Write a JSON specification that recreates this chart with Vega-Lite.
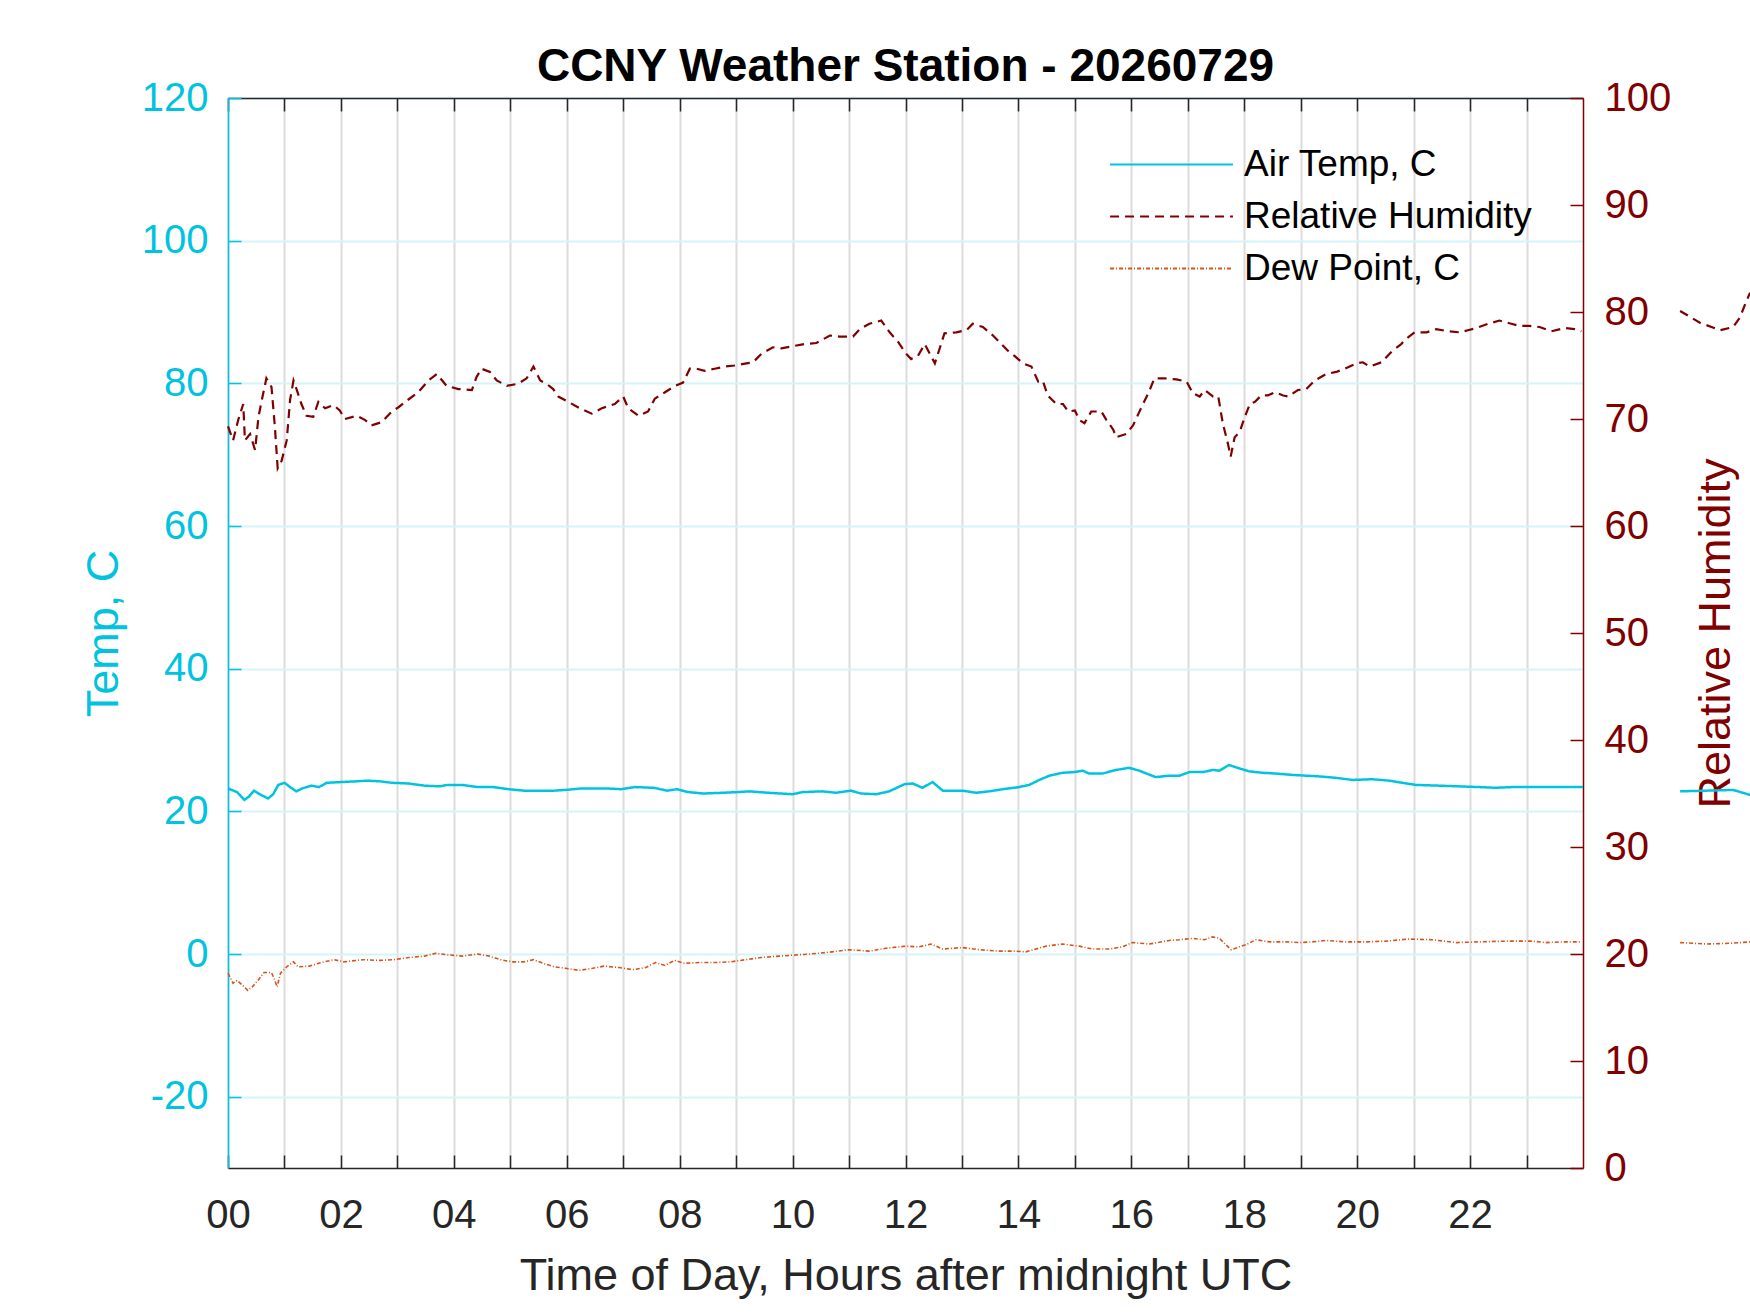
{
  "$schema": "https://vega.github.io/schema/vega-lite/v6.json",
  "width": 1355,
  "height": 1070,
  "autosize": {"type": "none"},
  "padding": {"left": 228, "top": 98, "right": 167, "bottom": 145},
  "title": {
    "text": "CCNY Weather Station - 20260729",
    "fontSize": 46,
    "fontWeight": "bold",
    "color": "#000000",
    "anchor": "middle",
    "baseline": "alphabetic",
    "frame": "group",
    "offset": 13,
    "dy": 62
  },
  "config": {
    "font": "Liberation Sans",
    "view": {"stroke": null},
    "axis": {
      "labelFont": "Liberation Sans",
      "titleFont": "Liberation Sans",
      "titleFontWeight": "normal",
      "labelFontSize": 40,
      "titleFontSize": 45,
      "tickSize": -13,
      "tickWidth": 1.5,
      "domainWidth": 1.5,
      "labelFlush": false,
      "labelOverlap": false,
      "gridWidth": 2
    }
  },
  "datasets": {
    "temp": [
      {"hour": 0, "value": 23.2, "seg": 1}, {"hour": 0.16, "value": 22.7, "seg": 1}, {"hour": 0.29, "value": 21.6, "seg": 1},
      {"hour": 0.36, "value": 22.0, "seg": 1}, {"hour": 0.46, "value": 22.9, "seg": 1}, {"hour": 0.56, "value": 22.4, "seg": 1},
      {"hour": 0.71, "value": 21.8, "seg": 1}, {"hour": 0.8, "value": 22.4, "seg": 1}, {"hour": 0.89, "value": 23.7, "seg": 1},
      {"hour": 1.0, "value": 24.0, "seg": 1}, {"hour": 1.1, "value": 23.4, "seg": 1}, {"hour": 1.21, "value": 22.8, "seg": 1},
      {"hour": 1.31, "value": 23.2, "seg": 1}, {"hour": 1.48, "value": 23.6, "seg": 1}, {"hour": 1.61, "value": 23.4, "seg": 1},
      {"hour": 1.75, "value": 24.0, "seg": 1}, {"hour": 1.99, "value": 24.1, "seg": 1}, {"hour": 2.26, "value": 24.2, "seg": 1},
      {"hour": 2.46, "value": 24.3, "seg": 1}, {"hour": 2.7, "value": 24.2, "seg": 1}, {"hour": 2.9, "value": 24.0, "seg": 1},
      {"hour": 3.2, "value": 23.9, "seg": 1}, {"hour": 3.48, "value": 23.6, "seg": 1}, {"hour": 3.75, "value": 23.5, "seg": 1},
      {"hour": 3.88, "value": 23.7, "seg": 1}, {"hour": 4.15, "value": 23.7, "seg": 1}, {"hour": 4.42, "value": 23.4, "seg": 1},
      {"hour": 4.7, "value": 23.4, "seg": 1}, {"hour": 4.97, "value": 23.1, "seg": 1}, {"hour": 5.24, "value": 22.9, "seg": 1},
      {"hour": 5.51, "value": 22.9, "seg": 1}, {"hour": 5.78, "value": 22.9, "seg": 1}, {"hour": 5.98, "value": 23.0, "seg": 1},
      {"hour": 6.25, "value": 23.2, "seg": 1}, {"hour": 6.52, "value": 23.2, "seg": 1}, {"hour": 6.73, "value": 23.2, "seg": 1},
      {"hour": 6.96, "value": 23.1, "seg": 1}, {"hour": 7.2, "value": 23.4, "seg": 1}, {"hour": 7.54, "value": 23.3, "seg": 1},
      {"hour": 7.78, "value": 22.9, "seg": 1}, {"hour": 7.95, "value": 23.1, "seg": 1}, {"hour": 8.15, "value": 22.7, "seg": 1},
      {"hour": 8.42, "value": 22.5, "seg": 1}, {"hour": 8.76, "value": 22.6, "seg": 1}, {"hour": 9.03, "value": 22.7, "seg": 1},
      {"hour": 9.23, "value": 22.8, "seg": 1}, {"hour": 9.57, "value": 22.6, "seg": 1}, {"hour": 10.0, "value": 22.4, "seg": 1},
      {"hour": 10.18, "value": 22.7, "seg": 1}, {"hour": 10.53, "value": 22.8, "seg": 1}, {"hour": 10.77, "value": 22.6, "seg": 1},
      {"hour": 11.03, "value": 22.9, "seg": 1}, {"hour": 11.21, "value": 22.5, "seg": 1}, {"hour": 11.48, "value": 22.4, "seg": 1},
      {"hour": 11.71, "value": 22.8, "seg": 1}, {"hour": 11.98, "value": 23.8, "seg": 1}, {"hour": 12.13, "value": 23.9, "seg": 1},
      {"hour": 12.3, "value": 23.3, "seg": 1}, {"hour": 12.48, "value": 24.1, "seg": 1}, {"hour": 12.66, "value": 22.9, "seg": 1},
      {"hour": 13.01, "value": 22.9, "seg": 1}, {"hour": 13.25, "value": 22.6, "seg": 1}, {"hour": 13.48, "value": 22.8, "seg": 1},
      {"hour": 13.72, "value": 23.1, "seg": 1}, {"hour": 14.01, "value": 23.4, "seg": 1}, {"hour": 14.19, "value": 23.7, "seg": 1},
      {"hour": 14.37, "value": 24.4, "seg": 1}, {"hour": 14.55, "value": 25.0, "seg": 1}, {"hour": 14.78, "value": 25.4, "seg": 1},
      {"hour": 14.99, "value": 25.5, "seg": 1}, {"hour": 15.14, "value": 25.7, "seg": 1}, {"hour": 15.25, "value": 25.3, "seg": 1},
      {"hour": 15.49, "value": 25.3, "seg": 1}, {"hour": 15.73, "value": 25.8, "seg": 1}, {"hour": 15.96, "value": 26.1, "seg": 1},
      {"hour": 16.14, "value": 25.7, "seg": 1}, {"hour": 16.43, "value": 24.8, "seg": 1}, {"hour": 16.67, "value": 25.0, "seg": 1},
      {"hour": 16.85, "value": 25.0, "seg": 1}, {"hour": 17.03, "value": 25.5, "seg": 1}, {"hour": 17.27, "value": 25.5, "seg": 1},
      {"hour": 17.44, "value": 25.8, "seg": 1}, {"hour": 17.56, "value": 25.7, "seg": 1}, {"hour": 17.73, "value": 26.5, "seg": 1},
      {"hour": 17.88, "value": 26.1, "seg": 1}, {"hour": 18.09, "value": 25.6, "seg": 1}, {"hour": 18.33, "value": 25.4, "seg": 1},
      {"hour": 18.56, "value": 25.3, "seg": 1}, {"hour": 18.86, "value": 25.1, "seg": 1}, {"hour": 19.09, "value": 25.0, "seg": 1},
      {"hour": 19.33, "value": 24.9, "seg": 1}, {"hour": 19.62, "value": 24.7, "seg": 1}, {"hour": 19.92, "value": 24.4, "seg": 1},
      {"hour": 20.27, "value": 24.5, "seg": 1}, {"hour": 20.57, "value": 24.3, "seg": 1}, {"hour": 20.8, "value": 24.0, "seg": 1},
      {"hour": 21.04, "value": 23.7, "seg": 1}, {"hour": 21.45, "value": 23.6, "seg": 1}, {"hour": 21.81, "value": 23.5, "seg": 1},
      {"hour": 22.16, "value": 23.4, "seg": 1}, {"hour": 22.45, "value": 23.3, "seg": 1}, {"hour": 22.75, "value": 23.4, "seg": 1},
      {"hour": 23.1, "value": 23.4, "seg": 1}, {"hour": 23.52, "value": 23.4, "seg": 1}, {"hour": 24.0, "value": 23.4, "seg": 1},
      {"hour": 25.72, "value": 22.8, "seg": 2}, {"hour": 26.2, "value": 22.9, "seg": 2}, {"hour": 26.66, "value": 23.0, "seg": 2},
      {"hour": 26.96, "value": 22.3, "seg": 2}
    ],
    "dew": [
      {"hour": 0, "value": -2.7, "seg": 1}, {"hour": 0.09, "value": -4.1, "seg": 1}, {"hour": 0.16, "value": -3.7, "seg": 1},
      {"hour": 0.26, "value": -4.4, "seg": 1}, {"hour": 0.35, "value": -5.1, "seg": 1}, {"hour": 0.43, "value": -4.6, "seg": 1},
      {"hour": 0.53, "value": -3.7, "seg": 1}, {"hour": 0.64, "value": -2.6, "seg": 1}, {"hour": 0.77, "value": -2.6, "seg": 1},
      {"hour": 0.83, "value": -3.7, "seg": 1}, {"hour": 0.87, "value": -4.6, "seg": 1}, {"hour": 0.93, "value": -2.7, "seg": 1},
      {"hour": 1.04, "value": -1.8, "seg": 1}, {"hour": 1.16, "value": -1.1, "seg": 1}, {"hour": 1.24, "value": -1.8, "seg": 1},
      {"hour": 1.44, "value": -1.7, "seg": 1}, {"hour": 1.65, "value": -1.2, "seg": 1}, {"hour": 1.88, "value": -0.8, "seg": 1},
      {"hour": 2.05, "value": -1.1, "seg": 1}, {"hour": 2.39, "value": -0.8, "seg": 1}, {"hour": 2.66, "value": -0.9, "seg": 1},
      {"hour": 2.93, "value": -0.8, "seg": 1}, {"hour": 3.2, "value": -0.5, "seg": 1}, {"hour": 3.48, "value": -0.3, "seg": 1},
      {"hour": 3.68, "value": 0.1, "seg": 1}, {"hour": 3.88, "value": -0.1, "seg": 1}, {"hour": 4.15, "value": -0.3, "seg": 1},
      {"hour": 4.42, "value": 0.0, "seg": 1}, {"hour": 4.63, "value": -0.3, "seg": 1}, {"hour": 4.83, "value": -0.8, "seg": 1},
      {"hour": 5.03, "value": -1.1, "seg": 1}, {"hour": 5.24, "value": -1.1, "seg": 1}, {"hour": 5.41, "value": -0.8, "seg": 1},
      {"hour": 5.58, "value": -1.3, "seg": 1}, {"hour": 5.78, "value": -1.8, "seg": 1}, {"hour": 5.98, "value": -2.0, "seg": 1},
      {"hour": 6.22, "value": -2.3, "seg": 1}, {"hour": 6.46, "value": -2.0, "seg": 1}, {"hour": 6.66, "value": -1.7, "seg": 1},
      {"hour": 6.93, "value": -1.9, "seg": 1}, {"hour": 7.17, "value": -2.2, "seg": 1}, {"hour": 7.4, "value": -1.9, "seg": 1},
      {"hour": 7.57, "value": -1.2, "seg": 1}, {"hour": 7.74, "value": -1.6, "seg": 1}, {"hour": 7.91, "value": -0.9, "seg": 1},
      {"hour": 8.08, "value": -1.3, "seg": 1}, {"hour": 8.35, "value": -1.2, "seg": 1}, {"hour": 8.62, "value": -1.2, "seg": 1},
      {"hour": 8.9, "value": -1.1, "seg": 1}, {"hour": 9.17, "value": -0.8, "seg": 1}, {"hour": 9.44, "value": -0.5, "seg": 1},
      {"hour": 9.76, "value": -0.3, "seg": 1}, {"hour": 10.3, "value": 0.0, "seg": 1}, {"hour": 10.59, "value": 0.2, "seg": 1},
      {"hour": 11.0, "value": 0.6, "seg": 1}, {"hour": 11.36, "value": 0.4, "seg": 1}, {"hour": 11.65, "value": 0.8, "seg": 1},
      {"hour": 12.0, "value": 1.1, "seg": 1}, {"hour": 12.24, "value": 1.0, "seg": 1}, {"hour": 12.45, "value": 1.4, "seg": 1},
      {"hour": 12.66, "value": 0.7, "seg": 1}, {"hour": 13.01, "value": 0.9, "seg": 1}, {"hour": 13.31, "value": 0.6, "seg": 1},
      {"hour": 13.66, "value": 0.4, "seg": 1}, {"hour": 13.96, "value": 0.4, "seg": 1}, {"hour": 14.13, "value": 0.3, "seg": 1},
      {"hour": 14.49, "value": 1.1, "seg": 1}, {"hour": 14.78, "value": 1.4, "seg": 1}, {"hour": 15.08, "value": 1.1, "seg": 1},
      {"hour": 15.31, "value": 0.7, "seg": 1}, {"hour": 15.61, "value": 0.7, "seg": 1}, {"hour": 15.84, "value": 1.0, "seg": 1},
      {"hour": 16.02, "value": 1.6, "seg": 1}, {"hour": 16.32, "value": 1.4, "seg": 1}, {"hour": 16.67, "value": 1.9, "seg": 1},
      {"hour": 16.85, "value": 2.0, "seg": 1}, {"hour": 17.09, "value": 2.2, "seg": 1}, {"hour": 17.29, "value": 2.0, "seg": 1},
      {"hour": 17.44, "value": 2.4, "seg": 1}, {"hour": 17.56, "value": 2.2, "seg": 1}, {"hour": 17.65, "value": 1.5, "seg": 1},
      {"hour": 17.77, "value": 0.6, "seg": 1}, {"hour": 17.88, "value": 0.9, "seg": 1}, {"hour": 18.03, "value": 1.3, "seg": 1},
      {"hour": 18.21, "value": 2.0, "seg": 1}, {"hour": 18.44, "value": 1.7, "seg": 1}, {"hour": 18.74, "value": 1.7, "seg": 1},
      {"hour": 18.98, "value": 1.6, "seg": 1}, {"hour": 19.21, "value": 1.7, "seg": 1}, {"hour": 19.45, "value": 1.9, "seg": 1},
      {"hour": 19.8, "value": 1.7, "seg": 1}, {"hour": 20.15, "value": 1.7, "seg": 1}, {"hour": 20.51, "value": 1.8, "seg": 1},
      {"hour": 20.92, "value": 2.1, "seg": 1}, {"hour": 21.33, "value": 2.0, "seg": 1}, {"hour": 21.75, "value": 1.6, "seg": 1},
      {"hour": 22.16, "value": 1.7, "seg": 1}, {"hour": 22.63, "value": 1.8, "seg": 1}, {"hour": 23.1, "value": 1.8, "seg": 1},
      {"hour": 23.34, "value": 1.6, "seg": 1}, {"hour": 23.63, "value": 1.7, "seg": 1}, {"hour": 23.96, "value": 1.7, "seg": 1},
      {"hour": 25.72, "value": 1.6, "seg": 2}, {"hour": 26.2, "value": 1.4, "seg": 2}, {"hour": 26.6, "value": 1.5, "seg": 2},
      {"hour": 26.96, "value": 1.7, "seg": 2}
    ],
    "rh": [
      {"hour": 0, "value": 69.3, "seg": 1}, {"hour": 0.09, "value": 68.0, "seg": 1}, {"hour": 0.18, "value": 69.9, "seg": 1},
      {"hour": 0.27, "value": 71.4, "seg": 1}, {"hour": 0.3, "value": 68.0, "seg": 1}, {"hour": 0.39, "value": 68.6, "seg": 1},
      {"hour": 0.48, "value": 67.1, "seg": 1}, {"hour": 0.54, "value": 70.2, "seg": 1}, {"hour": 0.6, "value": 71.8, "seg": 1},
      {"hour": 0.68, "value": 73.8, "seg": 1}, {"hour": 0.77, "value": 73.0, "seg": 1}, {"hour": 0.83, "value": 69.3, "seg": 1},
      {"hour": 0.88, "value": 65.4, "seg": 1}, {"hour": 0.95, "value": 66.1, "seg": 1}, {"hour": 1.04, "value": 68.0, "seg": 1},
      {"hour": 1.1, "value": 71.8, "seg": 1}, {"hour": 1.16, "value": 73.6, "seg": 1}, {"hour": 1.22, "value": 72.7, "seg": 1},
      {"hour": 1.3, "value": 71.4, "seg": 1}, {"hour": 1.39, "value": 70.3, "seg": 1}, {"hour": 1.51, "value": 70.2, "seg": 1},
      {"hour": 1.6, "value": 71.6, "seg": 1}, {"hour": 1.72, "value": 71.0, "seg": 1}, {"hour": 1.87, "value": 71.3, "seg": 1},
      {"hour": 1.98, "value": 70.8, "seg": 1}, {"hour": 2.07, "value": 70.0, "seg": 1}, {"hour": 2.28, "value": 70.3, "seg": 1},
      {"hour": 2.43, "value": 69.9, "seg": 1}, {"hour": 2.54, "value": 69.4, "seg": 1}, {"hour": 2.72, "value": 69.7, "seg": 1},
      {"hour": 2.9, "value": 70.7, "seg": 1}, {"hour": 3.02, "value": 71.1, "seg": 1}, {"hour": 3.19, "value": 71.8, "seg": 1},
      {"hour": 3.37, "value": 72.5, "seg": 1}, {"hour": 3.55, "value": 73.6, "seg": 1}, {"hour": 3.7, "value": 74.2, "seg": 1},
      {"hour": 3.87, "value": 73.1, "seg": 1}, {"hour": 4.08, "value": 72.8, "seg": 1}, {"hour": 4.32, "value": 72.7, "seg": 1},
      {"hour": 4.4, "value": 73.9, "seg": 1}, {"hour": 4.49, "value": 74.7, "seg": 1}, {"hour": 4.64, "value": 74.4, "seg": 1},
      {"hour": 4.76, "value": 73.6, "seg": 1}, {"hour": 4.94, "value": 73.1, "seg": 1}, {"hour": 5.14, "value": 73.3, "seg": 1},
      {"hour": 5.29, "value": 73.8, "seg": 1}, {"hour": 5.41, "value": 74.9, "seg": 1}, {"hour": 5.53, "value": 73.6, "seg": 1},
      {"hour": 5.64, "value": 73.3, "seg": 1}, {"hour": 5.76, "value": 72.8, "seg": 1}, {"hour": 5.85, "value": 72.1, "seg": 1},
      {"hour": 6.03, "value": 71.6, "seg": 1}, {"hour": 6.23, "value": 71.0, "seg": 1}, {"hour": 6.44, "value": 70.5, "seg": 1},
      {"hour": 6.62, "value": 71.0, "seg": 1}, {"hour": 6.85, "value": 71.4, "seg": 1}, {"hour": 7.0, "value": 72.1, "seg": 1},
      {"hour": 7.09, "value": 71.0, "seg": 1}, {"hour": 7.27, "value": 70.3, "seg": 1}, {"hour": 7.44, "value": 70.7, "seg": 1},
      {"hour": 7.56, "value": 71.9, "seg": 1}, {"hour": 7.74, "value": 72.5, "seg": 1}, {"hour": 7.92, "value": 73.1, "seg": 1},
      {"hour": 8.06, "value": 73.4, "seg": 1}, {"hour": 8.18, "value": 74.7, "seg": 1}, {"hour": 8.3, "value": 74.7, "seg": 1},
      {"hour": 8.44, "value": 74.5, "seg": 1}, {"hour": 8.62, "value": 74.7, "seg": 1}, {"hour": 8.8, "value": 74.9, "seg": 1},
      {"hour": 8.97, "value": 75.0, "seg": 1}, {"hour": 9.18, "value": 75.2, "seg": 1}, {"hour": 9.3, "value": 75.3, "seg": 1},
      {"hour": 9.45, "value": 76.1, "seg": 1}, {"hour": 9.65, "value": 76.7, "seg": 1}, {"hour": 9.8, "value": 76.6, "seg": 1},
      {"hour": 10.0, "value": 76.8, "seg": 1}, {"hour": 10.21, "value": 77.0, "seg": 1}, {"hour": 10.42, "value": 77.1, "seg": 1},
      {"hour": 10.66, "value": 77.8, "seg": 1}, {"hour": 10.83, "value": 77.7, "seg": 1}, {"hour": 11.07, "value": 77.7, "seg": 1},
      {"hour": 11.19, "value": 78.4, "seg": 1}, {"hour": 11.36, "value": 78.9, "seg": 1}, {"hour": 11.57, "value": 79.2, "seg": 1},
      {"hour": 11.72, "value": 78.1, "seg": 1}, {"hour": 11.87, "value": 77.2, "seg": 1}, {"hour": 12.01, "value": 76.1, "seg": 1},
      {"hour": 12.1, "value": 75.6, "seg": 1}, {"hour": 12.22, "value": 75.9, "seg": 1}, {"hour": 12.34, "value": 77.0, "seg": 1},
      {"hour": 12.46, "value": 75.8, "seg": 1}, {"hour": 12.52, "value": 75.2, "seg": 1}, {"hour": 12.63, "value": 77.0, "seg": 1},
      {"hour": 12.69, "value": 78.0, "seg": 1}, {"hour": 12.9, "value": 78.1, "seg": 1}, {"hour": 13.08, "value": 78.3, "seg": 1},
      {"hour": 13.19, "value": 78.9, "seg": 1}, {"hour": 13.37, "value": 78.6, "seg": 1}, {"hour": 13.55, "value": 77.8, "seg": 1},
      {"hour": 13.7, "value": 77.0, "seg": 1}, {"hour": 13.81, "value": 76.4, "seg": 1}, {"hour": 13.93, "value": 75.9, "seg": 1},
      {"hour": 14.08, "value": 75.2, "seg": 1}, {"hour": 14.23, "value": 74.9, "seg": 1}, {"hour": 14.35, "value": 73.5, "seg": 1},
      {"hour": 14.43, "value": 73.6, "seg": 1}, {"hour": 14.52, "value": 72.2, "seg": 1}, {"hour": 14.67, "value": 71.4, "seg": 1},
      {"hour": 14.79, "value": 71.4, "seg": 1}, {"hour": 14.88, "value": 70.7, "seg": 1}, {"hour": 15.0, "value": 70.8, "seg": 1},
      {"hour": 15.08, "value": 69.9, "seg": 1}, {"hour": 15.17, "value": 69.6, "seg": 1}, {"hour": 15.29, "value": 70.7, "seg": 1},
      {"hour": 15.47, "value": 70.7, "seg": 1}, {"hour": 15.56, "value": 69.9, "seg": 1}, {"hour": 15.68, "value": 69.0, "seg": 1},
      {"hour": 15.73, "value": 68.3, "seg": 1}, {"hour": 15.91, "value": 68.6, "seg": 1}, {"hour": 16.03, "value": 69.4, "seg": 1},
      {"hour": 16.18, "value": 71.1, "seg": 1}, {"hour": 16.3, "value": 72.4, "seg": 1}, {"hour": 16.41, "value": 73.8, "seg": 1},
      {"hour": 16.59, "value": 73.8, "seg": 1}, {"hour": 16.8, "value": 73.7, "seg": 1}, {"hour": 16.98, "value": 73.5, "seg": 1},
      {"hour": 17.09, "value": 72.4, "seg": 1}, {"hour": 17.21, "value": 72.1, "seg": 1}, {"hour": 17.3, "value": 72.7, "seg": 1},
      {"hour": 17.45, "value": 72.1, "seg": 1}, {"hour": 17.54, "value": 72.1, "seg": 1}, {"hour": 17.62, "value": 69.6, "seg": 1},
      {"hour": 17.71, "value": 67.7, "seg": 1}, {"hour": 17.76, "value": 66.5, "seg": 1}, {"hour": 17.83, "value": 68.3, "seg": 1},
      {"hour": 17.92, "value": 68.8, "seg": 1}, {"hour": 18.01, "value": 70.2, "seg": 1}, {"hour": 18.1, "value": 71.4, "seg": 1},
      {"hour": 18.19, "value": 71.6, "seg": 1}, {"hour": 18.3, "value": 72.2, "seg": 1}, {"hour": 18.42, "value": 72.2, "seg": 1},
      {"hour": 18.54, "value": 72.5, "seg": 1}, {"hour": 18.69, "value": 72.2, "seg": 1}, {"hour": 18.78, "value": 72.1, "seg": 1},
      {"hour": 18.95, "value": 72.7, "seg": 1}, {"hour": 19.1, "value": 72.8, "seg": 1}, {"hour": 19.25, "value": 73.6, "seg": 1},
      {"hour": 19.45, "value": 74.2, "seg": 1}, {"hour": 19.63, "value": 74.4, "seg": 1}, {"hour": 19.78, "value": 74.7, "seg": 1},
      {"hour": 19.99, "value": 75.2, "seg": 1}, {"hour": 20.1, "value": 75.3, "seg": 1}, {"hour": 20.22, "value": 74.9, "seg": 1},
      {"hour": 20.43, "value": 75.3, "seg": 1}, {"hour": 20.61, "value": 76.3, "seg": 1}, {"hour": 20.78, "value": 77.0, "seg": 1},
      {"hour": 20.87, "value": 77.5, "seg": 1}, {"hour": 21.02, "value": 78.1, "seg": 1}, {"hour": 21.23, "value": 78.1, "seg": 1},
      {"hour": 21.4, "value": 78.4, "seg": 1}, {"hour": 21.61, "value": 78.2, "seg": 1}, {"hour": 21.82, "value": 78.1, "seg": 1},
      {"hour": 21.96, "value": 78.3, "seg": 1}, {"hour": 22.11, "value": 78.5, "seg": 1}, {"hour": 22.32, "value": 78.9, "seg": 1},
      {"hour": 22.52, "value": 79.2, "seg": 1}, {"hour": 22.73, "value": 78.9, "seg": 1}, {"hour": 22.88, "value": 78.7, "seg": 1},
      {"hour": 23.05, "value": 78.7, "seg": 1}, {"hour": 23.23, "value": 78.6, "seg": 1}, {"hour": 23.44, "value": 78.2, "seg": 1},
      {"hour": 23.68, "value": 78.5, "seg": 1}, {"hour": 23.85, "value": 78.4, "seg": 1}, {"hour": 23.97, "value": 78.2, "seg": 1},
      {"hour": 25.72, "value": 80.1, "seg": 2}, {"hour": 26.07, "value": 79.0, "seg": 2}, {"hour": 26.43, "value": 78.3, "seg": 2},
      {"hour": 26.66, "value": 78.6, "seg": 2}, {"hour": 26.78, "value": 79.5, "seg": 2}, {"hour": 26.9, "value": 81.1, "seg": 2},
      {"hour": 26.96, "value": 81.8, "seg": 2}
    ]
  },
  "layer": [
    {
      "encoding": {
        "x": {
          "field": "hour",
          "type": "quantitative",
          "scale": {"domain": [0, 24], "nice": false, "zero": false},
          "axis": {
            "orient": "bottom",
            "values": [0, 1, 2, 3, 4, 5, 6, 7, 8, 9, 10, 11, 12, 13, 14, 15, 16, 17, 18, 19, 20, 21, 22, 23],
            "labelExpr": "datum.value % 2 == 0 ? (datum.value < 10 ? '0' : '') + datum.value : ''",
            "title": "Time of Day, Hours after midnight UTC",
            "grid": true,
            "gridColor": "#dcdcdc",
            "domainColor": "#262626",
            "tickColor": "#262626",
            "labelColor": "#262626",
            "titleColor": "#262626",
            "labelPadding": 40,
            "titlePadding": 18
          }
        },
        "y": {
          "field": "value",
          "type": "quantitative",
          "scale": {"domain": [-30, 120], "nice": false, "zero": false},
          "axis": {
            "orient": "left",
            "values": [-20, 0, 20, 40, 60, 80, 100, 120],
            "labelExpr": "'' + datum.value",
            "title": "Temp, C",
            "grid": true,
            "gridColor": "#d3f4f9",
            "domainColor": "#00c3e0",
            "tickColor": "#00c3e0",
            "labelColor": "#00c3e0",
            "titleColor": "#00c3e0",
            "labelPadding": 33,
            "titlePadding": 15
          }
        },
        "detail": {"field": "seg", "type": "nominal"}
      },
      "layer": [
        {
          "data": {"name": "temp"},
          "mark": {"type": "line", "strokeWidth": 2.5},
          "encoding": {
            "color": {
              "datum": "Air Temp, C",
              "type": "nominal",
              "scale": {"domain": ["Air Temp, C", "Relative Humidity", "Dew Point, C"], "range": ["#00c3e0", "#800000", "#d95319"]},
              "legend": {
                "title": null,
                "orient": "none",
                "legendX": 882,
                "legendY": 48,
                "padding": 0,
                "symbolType": "M-10,0H10",
                "symbolSize": 151,
                "symbolStrokeWidth": 2,
                "symbolOffset": 43,
                "labelOffset": 54,
                "rowPadding": 14,
                "labelFont": "Liberation Sans",
                "labelFontSize": 37,
                "labelColor": "#000000",
                "labelLimit": 600
              }
            },
            "strokeDash": {
              "datum": "Air Temp, C",
              "type": "nominal",
              "scale": {"domain": ["Air Temp, C", "Relative Humidity", "Dew Point, C"], "range": [[1, 0], [9, 6], [4, 2, 1, 2]]},
              "legend": {
                "title": null,
                "orient": "none",
                "legendX": 882,
                "legendY": 48,
                "padding": 0,
                "symbolType": "M-10,0H10",
                "symbolSize": 151,
                "symbolStrokeWidth": 2,
                "symbolOffset": 43,
                "labelOffset": 54,
                "rowPadding": 14,
                "labelFont": "Liberation Sans",
                "labelFontSize": 37,
                "labelColor": "#000000",
                "labelLimit": 600
              }
            }
          }
        },
        {
          "data": {"name": "dew"},
          "mark": {"type": "line", "strokeWidth": 1.6},
          "encoding": {
            "color": {"datum": "Dew Point, C", "type": "nominal"},
            "strokeDash": {"datum": "Dew Point, C", "type": "nominal"}
          }
        }
      ]
    },
    {
      "data": {"name": "rh"},
      "mark": {"type": "line", "strokeWidth": 2.2},
      "encoding": {
        "x": {
          "field": "hour",
          "type": "quantitative",
          "scale": {"domain": [0, 24], "nice": false, "zero": false},
          "axis": {
            "orient": "top",
            "values": [0, 1, 2, 3, 4, 5, 6, 7, 8, 9, 10, 11, 12, 13, 14, 15, 16, 17, 18, 19, 20, 21, 22, 23],
            "labels": false,
            "title": null,
            "grid": false,
            "domainColor": "#262626",
            "tickColor": "#262626"
          }
        },
        "y": {
          "field": "value",
          "type": "quantitative",
          "scale": {"domain": [0, 100], "nice": false, "zero": false},
          "axis": {
            "orient": "right",
            "values": [0, 10, 20, 30, 40, 50, 60, 70, 80, 90, 100],
            "title": "Relative Humidity",
            "titleAngle": 270,
            "titleBaseline": "top",
            "grid": false,
            "domainColor": "#800000",
            "tickColor": "#800000",
            "labelColor": "#800000",
            "titleColor": "#800000",
            "labelPadding": 34,
            "titlePadding": 23
          }
        },
        "detail": {"field": "seg", "type": "nominal"},
        "color": {"datum": "Relative Humidity", "type": "nominal"},
        "strokeDash": {"datum": "Relative Humidity", "type": "nominal"}
      }
    }
  ],
  "resolve": {"scale": {"y": "independent"}, "axis": {"x": "independent"}}
}
